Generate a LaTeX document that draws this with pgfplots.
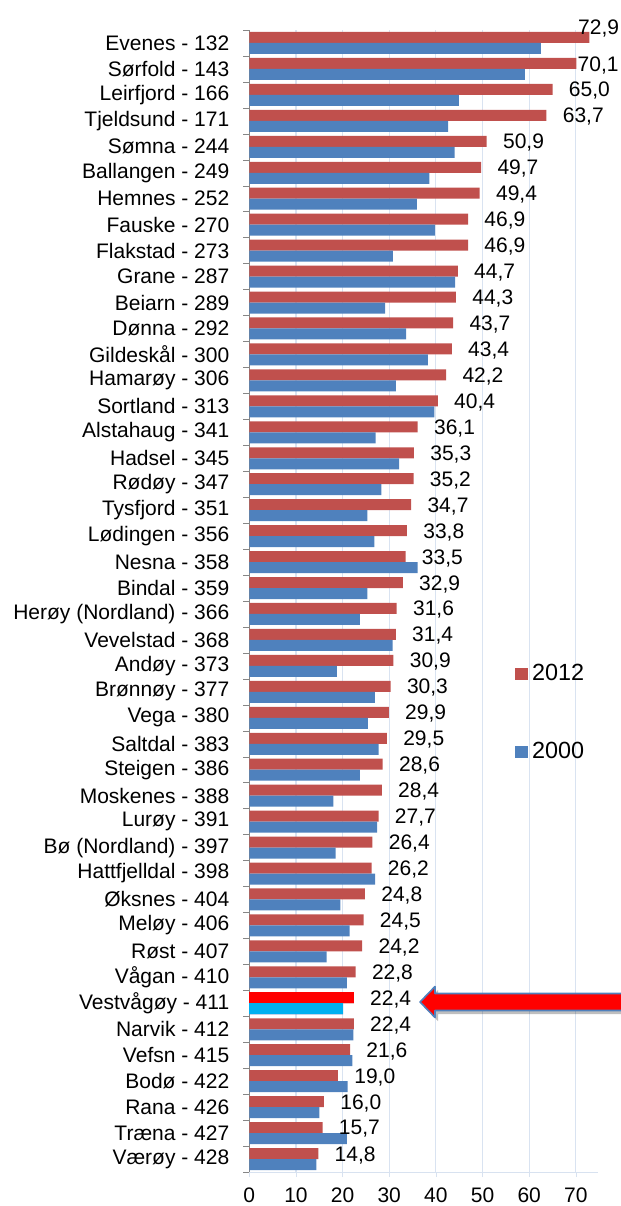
\documentclass[border=0pt]{standalone}
\usepackage{fontspec}
\setmainfont{Liberation Sans}
\usepackage{pgfplots}
\usepackage{pgfplotstable}
\pgfplotsset{compat=1.18}
\definecolor{r12}{HTML}{C0504D}
\definecolor{b00}{HTML}{4F81BD}
\definecolor{hlred}{HTML}{FF0000}
\definecolor{hlcyan}{HTML}{00B0F0}
\definecolor{gridc}{HTML}{D9E3F1}
\definecolor{axgray}{HTML}{868686}

% y = position from the bottom, a = 2012, b = 2000, dx/dy = label offsets (pt)
\pgfplotstableread[col sep=comma]{
y,name,a,b,dx,dy
0,Værøy - 428,14.8,14.4,8,-0.75
1,Træna - 427,15.7,20.9,8,-0.75
2,Rana - 426,16.0,15.0,8,-0.75
3,Bodø - 422,19.0,21.1,8,-0.75
4,Vefsn - 415,21.6,22.1,8,-0.75
5,Narvik - 412,22.4,22.3,8,-0.75
6,Vestvågøy - 411,22.4,20.1,8,-0.75
7,Vågan - 410,22.8,20.9,8,-0.75
8,Røst - 407,24.2,16.6,8,-0.75
9,Meløy - 406,24.5,21.5,8,-0.75
10,Øksnes - 404,24.8,19.5,8,-0.75
11,Hattfjelldal - 398,26.2,27.0,8,-0.75
12,Bø (Nordland) - 397,26.4,18.5,8,-0.75
13,Lurøy - 391,27.7,27.4,8,-0.75
14,Moskenes - 388,28.4,18.0,8,-0.75
15,Steigen - 386,28.6,23.7,8,-0.75
16,Saltdal - 383,29.5,27.7,8,-0.75
17,Vega - 380,29.9,25.4,8,-0.75
18,Brønnøy - 377,30.3,26.9,8,-0.75
19,Andøy - 373,30.9,18.8,8,-0.75
20,Vevelstad - 368,31.4,30.7,8,-0.75
21,Herøy (Nordland) - 366,31.6,23.7,8,-0.75
22,Bindal - 359,32.9,25.3,8,-0.75
23,Nesna - 358,33.5,36.1,8,-0.75
24,Lødingen - 356,33.8,26.8,8,-0.75
25,Tysfjord - 351,34.7,25.3,8,-0.75
26,Rødøy - 347,35.2,28.3,8,-0.75
27,Hadsel - 345,35.3,32.1,8,-0.75
28,Alstahaug - 341,36.1,27.1,8,-0.75
29,Sortland - 313,40.4,39.7,8,-0.75
30,Hamarøy - 306,42.2,31.4,8,-0.75
31,Gildeskål - 300,43.4,38.3,8,-0.75
32,Dønna - 292,43.7,33.6,8,-0.75
33,Beiarn - 289,44.3,29.1,8,-0.75
34,Grane - 287,44.7,44.1,8,-0.75
35,Flakstad - 273,46.9,30.8,8,-0.75
36,Fauske - 270,46.9,39.8,8,-0.75
37,Hemnes - 252,49.4,35.9,8,-0.75
38,Ballangen - 249,49.7,38.6,8,-0.75
39,Sømna - 244,50.9,44.0,8,-0.75
40,Tjeldsund - 171,63.7,42.6,8,-0.75
41,Leirfjord - 166,65.0,44.9,8,-0.75
42,Sørfold - 143,70.1,59.1,0.5,-1.1
43,Evenes - 132,72.9,62.5,-5.8,4.5
}\data

\begin{document}
\begin{tikzpicture}
\begin{axis}[
    width=174.35pt, height=571pt, scale only axis,
    xbar, bar width=5.5pt,
    xmin=0, xmax=74.75, ymin=-0.5, ymax=43.5,
    axis x line*=bottom, axis y line*=left,
    x axis line style={color=gridc!80!b00!60},
    y axis line style={color=axgray},
    xtick={0,10,...,70},
    ytick={0,...,43},
    yticklabels from table={\data}{name},
    minor ytick={-0.5,0.5,...,43.5},
    tick align=outside,
    major tick length=2.5pt, minor tick length=3pt,
    major x tick style={color=gridc!80!b00!60},
    major y tick style={draw=none},
    minor y tick style={color=axgray},
    xmajorgrids, grid style={color=gridc, line width=0.6pt},
    /pgf/number format/assume math mode=true,
    tick label style={font=\fontsize{10.5}{12}\selectfont},
    xticklabel style={yshift=-2pt},
    yticklabel style={xshift=-4pt},
    legend style={font=\fontsize{11.7}{13}\selectfont, draw=none, fill=none,
      at={(0.762,0.402)}, anchor=west, inner sep=0pt, row sep=25pt},
    legend cell align=left,
    legend image code/.code={\path[#1, draw=none] (0pt,-3pt) rectangle (6.3pt,3pt);},
    clip=false,
]
\addplot[fill=r12, draw=none, bar shift=2.75pt, point meta=x,
    visualization depends on={\thisrow{dx} \as \dx},
    visualization depends on={\thisrow{dy} \as \dy},
    nodes near coords={\pgfmathprintnumber[fixed, fixed zerofill, precision=1, use comma, assume math mode=true]{\pgfplotspointmeta}},
    every node near coord/.append style={font=\fontsize{10.5}{12}\selectfont, text=black,
      anchor=west, inner sep=0pt, xshift=\dx pt, yshift=\dy pt}]
  table[x=a, y=y] {\data};
\addplot[fill=b00, draw=none, bar shift=-2.75pt] table[x=b, y=y] {\data};
% Vestvågøy highlighted
\addplot[fill=hlred, draw=none, bar shift=2.75pt, forget plot] coordinates {(22.4,6)};
\addplot[fill=hlcyan, draw=none, bar shift=-2.75pt, forget plot] coordinates {(20.1,6)};
\legend{2012,2000}
% arrow
\path[fill=black, opacity=0.25] ([xshift=1.5pt,yshift=-1.8pt]axis cs:36.6,6.05) -- ++(7.5pt,7.75pt) -- ++(0pt,-3.5pt)
  -- ++(120pt,0pt) -- ++(0pt,-8.5pt) -- ++(-120pt,0pt) -- ++(0pt,-3.5pt) -- cycle;
\filldraw[fill=hlred, draw=b00, line width=0.8pt, line join=round] (axis cs:36.6,6.05) -- ++(7.5pt,7.75pt) -- ++(0pt,-3.5pt)
  -- ++(120pt,0pt) -- ++(0pt,-8.5pt) -- ++(-120pt,0pt) -- ++(0pt,-3.5pt) -- cycle;
\end{axis}
\pgfresetboundingbox
\path[use as bounding box] (-124.65pt,-17pt) rectangle (185.85pt,586pt);
\end{tikzpicture}
\end{document}
